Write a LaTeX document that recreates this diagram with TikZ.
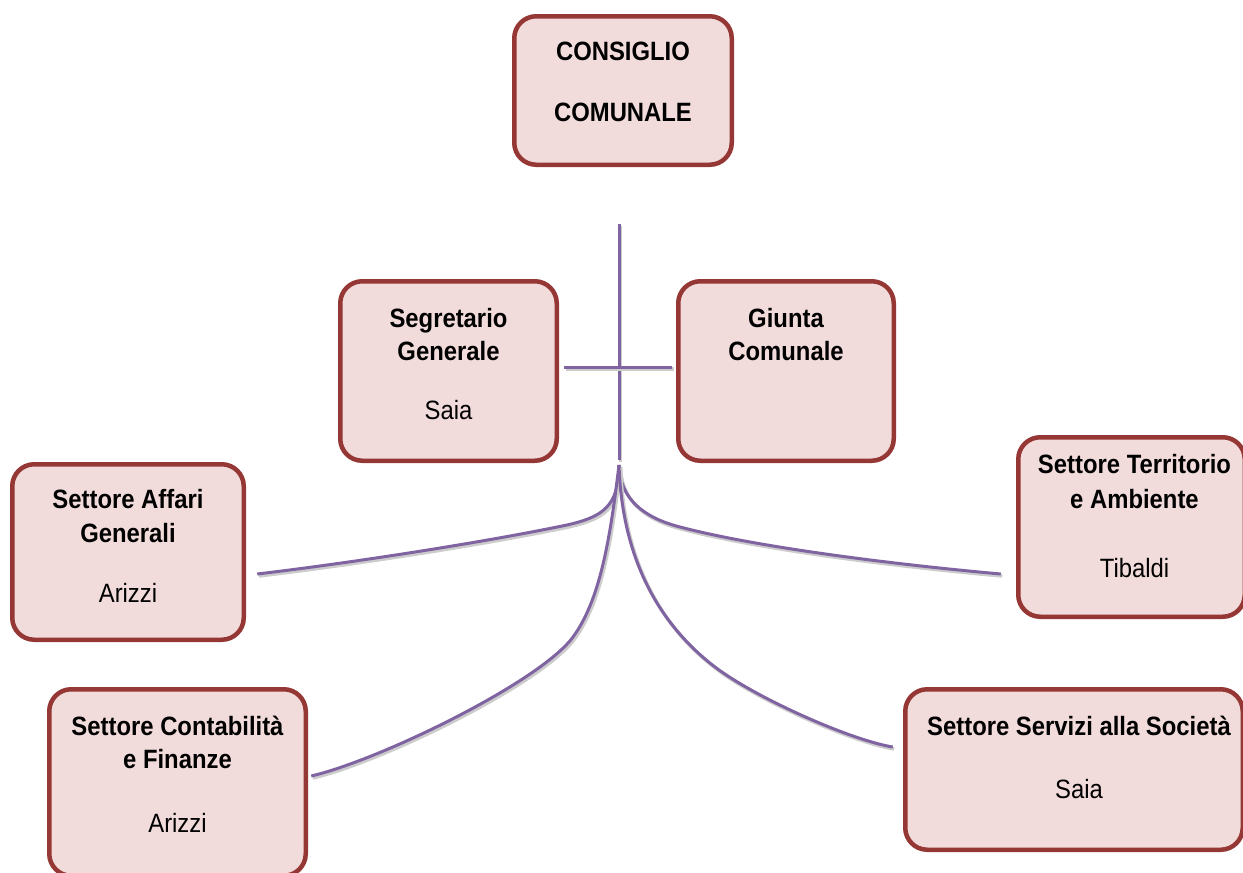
\documentclass[tikz,border=0pt]{standalone}
\usepackage{fontspec}
\setmainfont{Liberation Sans}[FakeStretch=0.9]
\usetikzlibrary{calc}
\definecolor{boxfill}{HTML}{F2DCDB}
\definecolor{boxdraw}{HTML}{953735}
\definecolor{linkc}{HTML}{8064A2}
\begin{document}
\begin{tikzpicture}[x=1pt,y=-1pt,
  orgbox/.style={draw=boxdraw, fill=boxfill, line width=4.5pt, rounded corners=22pt, inner sep=0pt},
  bt/.style={font=\fontsize{26.5}{30}\selectfont\bfseries, anchor=base, inner sep=0pt},
  nt/.style={font=\fontsize{26.5}{30}\selectfont, anchor=base, inner sep=0pt},
  link/.style={draw=linkc, line width=3pt,
    preaction={draw=black!20, line width=3.5pt, transform canvas={xshift=1.5pt,yshift=-2pt}}}]
\useasboundingbox (0,0) rectangle (1243,873);
\fill[white] (0,0) rectangle (1243,873);

% boxes
\node[orgbox, minimum width=217.5pt, minimum height=148.5pt] (cc) at (623,90.5) {};
\node[orgbox, minimum width=216.5pt, minimum height=179.5pt] (seg) at (448.5,371) {};
\node[orgbox, minimum width=215.5pt, minimum height=179.5pt] (giu) at (786,371) {};
\node[orgbox, minimum width=231.5pt, minimum height=175.5pt] (aff) at (128,552) {};
\node[orgbox, minimum width=226.5pt, minimum height=179.5pt] (ter) at (1131.5,527) {};
\node[orgbox, minimum width=256.5pt, minimum height=186.5pt] (con) at (177.5,782.5) {};
\node[orgbox, minimum width=337.5pt, minimum height=160.5pt] (ser) at (1074,769.5) {};

% texts
\node[bt] (cc1) at (623,60) {CONSIGLIO};
\node[bt] (cc2) at (623,121) {COMUNALE};
\node[bt] (seg1) at (448.5,327) {Segretario};
\node[bt] (seg2) at (448.5,360) {Generale};
\node[nt] (seg3) at (448.5,419) {Saia};
\node[bt] (giu1) at (786,327) {Giunta};
\node[bt] (giu2) at (786,360) {Comunale};
\node[bt] (aff1) at (128,508) {Settore Affari};
\node[bt] (aff2) at (128,542) {Generali};
\node[nt] (aff3) at (128,602) {Arizzi};
\node[bt] (ter1) at (1134.5,473) {Settore Territorio};
\node[bt] (ter2) at (1134.5,508) {e Ambiente};
\node[nt] (ter3) at (1134.5,577) {Tibaldi};
\node[bt] (con1) at (177.5,735) {Settore Contabilità};
\node[bt] (con2) at (177.5,768) {e Finanze};
\node[nt] (con3) at (177.5,832) {Arizzi};
\node[bt] (ser1) at (1079,735) {Settore Servizi alla Società};
\node[nt] (ser2) at (1079,798) {Saia};

% connectors
\coordinate (vtop) at (619,224);
\coordinate (vend) at (619,460);
\coordinate (fork) at (619,465);
\draw[link] (vtop) -- (vend);
\draw[link] ($(seg.east)+(5,-4)$) -- ($(giu.west)+(-4,-4)$);
\draw[link] (fork) .. controls (619,507) and (602,517) .. (567,525)
  .. controls (480,543) and (350,563) .. ($(aff.east)+(11.25,22)$);
\draw[link] (fork) .. controls (620,500) and (645,518) .. (680,527)
  .. controls (760,548) and (900,565) .. ($(ter.west)+(-15.25,47)$);
\draw[link] (fork) .. controls (610,540) and (600,600) .. (573,637)
  .. controls (540,682) and (380,760) .. ($(con.east)+(3.25,-6.5)$);
\draw[link] (fork) .. controls (622,560) and (660,625) .. (715,667)
  .. controls (755,697.5) and (850,740) .. ($(ser.west)+(-10.25,-22.5)$);
\end{tikzpicture}
\end{document}
